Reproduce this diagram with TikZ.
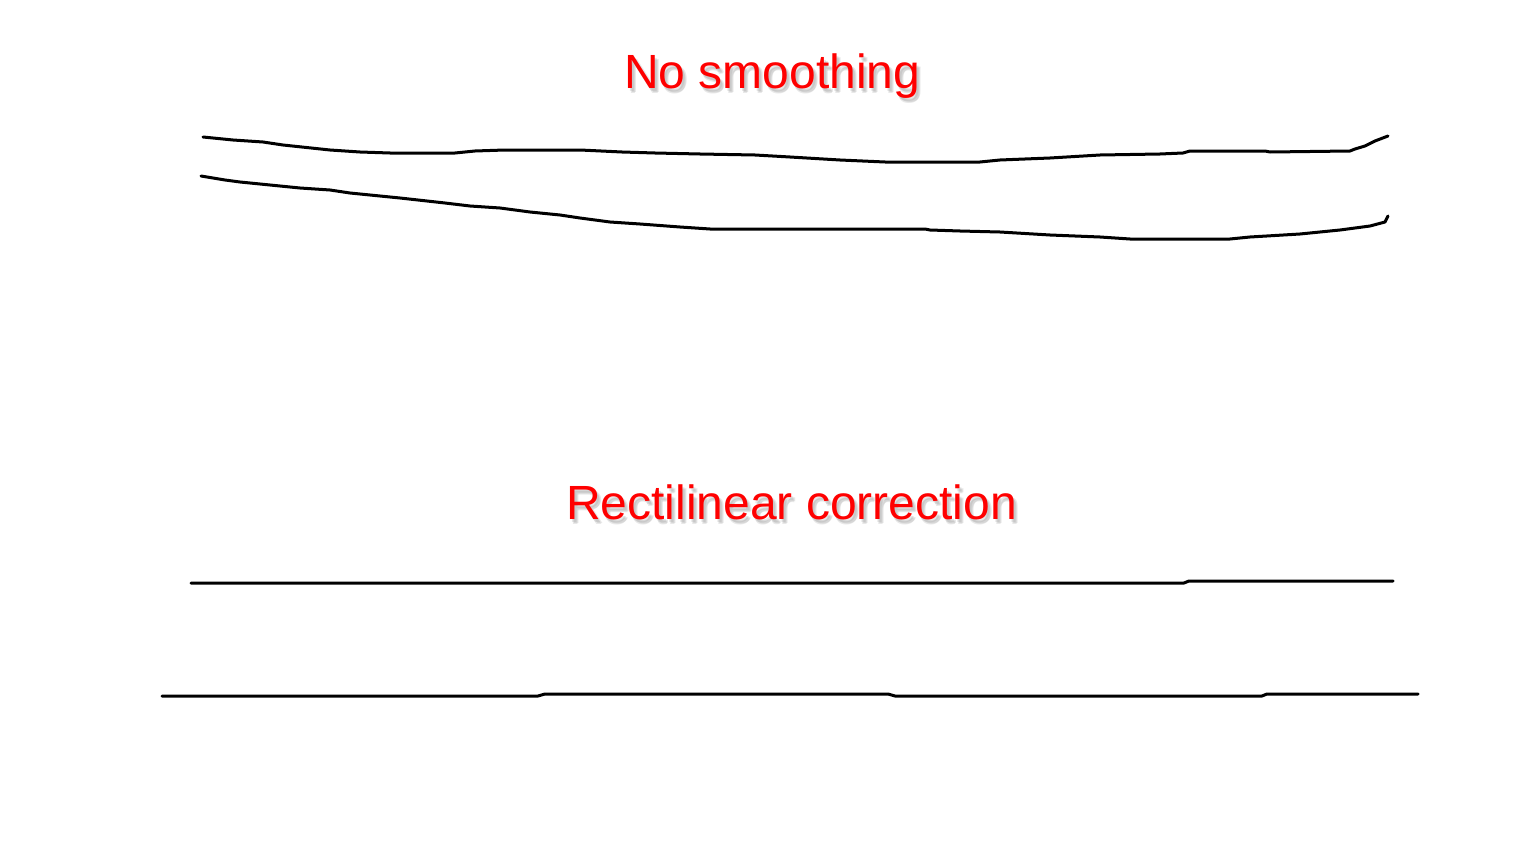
\documentclass[tikz,border=0pt]{standalone}
\usepackage{fontspec}
\setmainfont{Liberation Sans}
\begin{document}
\begin{tikzpicture}[x=1pt,y=-1pt,
  stroke/.style={line width=3pt,line cap=round,line join=round,black},
  title/.style={font=\fontsize{48}{50}\selectfont,text=red,inner sep=0pt,anchor=base west},
  shade/.style={font=\fontsize{48}{50}\selectfont,text=black!40,inner sep=0pt,anchor=base west,opacity=0.22}]
\useasboundingbox[fill=white] (0,0) rectangle (1536,864);
% titles with soft shadow
\foreach \dx/\dy in {2/3,4/4,3/5}{
  \node[shade] at (624+\dx,89+\dy) {No smoothing};
  \node[shade] at (566+\dx,519+\dy) {Rectilinear correction};
}
\node[title] (t1) at (624,89) {No smoothing};
\node[title] (t2) at (566,519) {Rectilinear correction};
% no smoothing strokes
\draw[stroke] (203,137) -- (233,140) -- (263,142) -- (283,145) -- (330,150) -- (360,152) -- (390,153) -- (455,153) -- (475,151) -- (505,150) -- (580,150) -- (622,152) -- (655,153) -- (700,154) -- (755,155) -- (790,157) -- (840,160) -- (885,162) -- (980,162) -- (1000,160) -- (1050,158) -- (1100,155) -- (1160,154) -- (1183,153) -- (1190,151) -- (1265,151) -- (1270,152) -- (1350,151) -- (1355,149) -- (1365,146) -- (1375,141) -- (1388,136);
\draw[stroke] (201,176) -- (225,180) -- (240,182) -- (260,184) -- (300,188) -- (330,190) -- (350,193) -- (400,198) -- (445,203) -- (470,206) -- (500,208) -- (530,212) -- (560,215) -- (580,218) -- (610,222) -- (640,224) -- (680,227) -- (710,229) -- (750,229) -- (925,229) -- (930,230) -- (960,231) -- (1000,232) -- (1050,235) -- (1100,237) -- (1130,239) -- (1230,239) -- (1250,237) -- (1300,234) -- (1340,230) -- (1370,226) -- (1385,222) -- (1388,216);
% rectilinear strokes
\draw[stroke] (191,583) -- (1184,583) -- (1189,581) -- (1393,581);
\draw[stroke] (162,696) -- (538,696) -- (545,694) -- (888,694) -- (895,696) -- (1262,696) -- (1267,694) -- (1418,694);
\end{tikzpicture}
\end{document}
